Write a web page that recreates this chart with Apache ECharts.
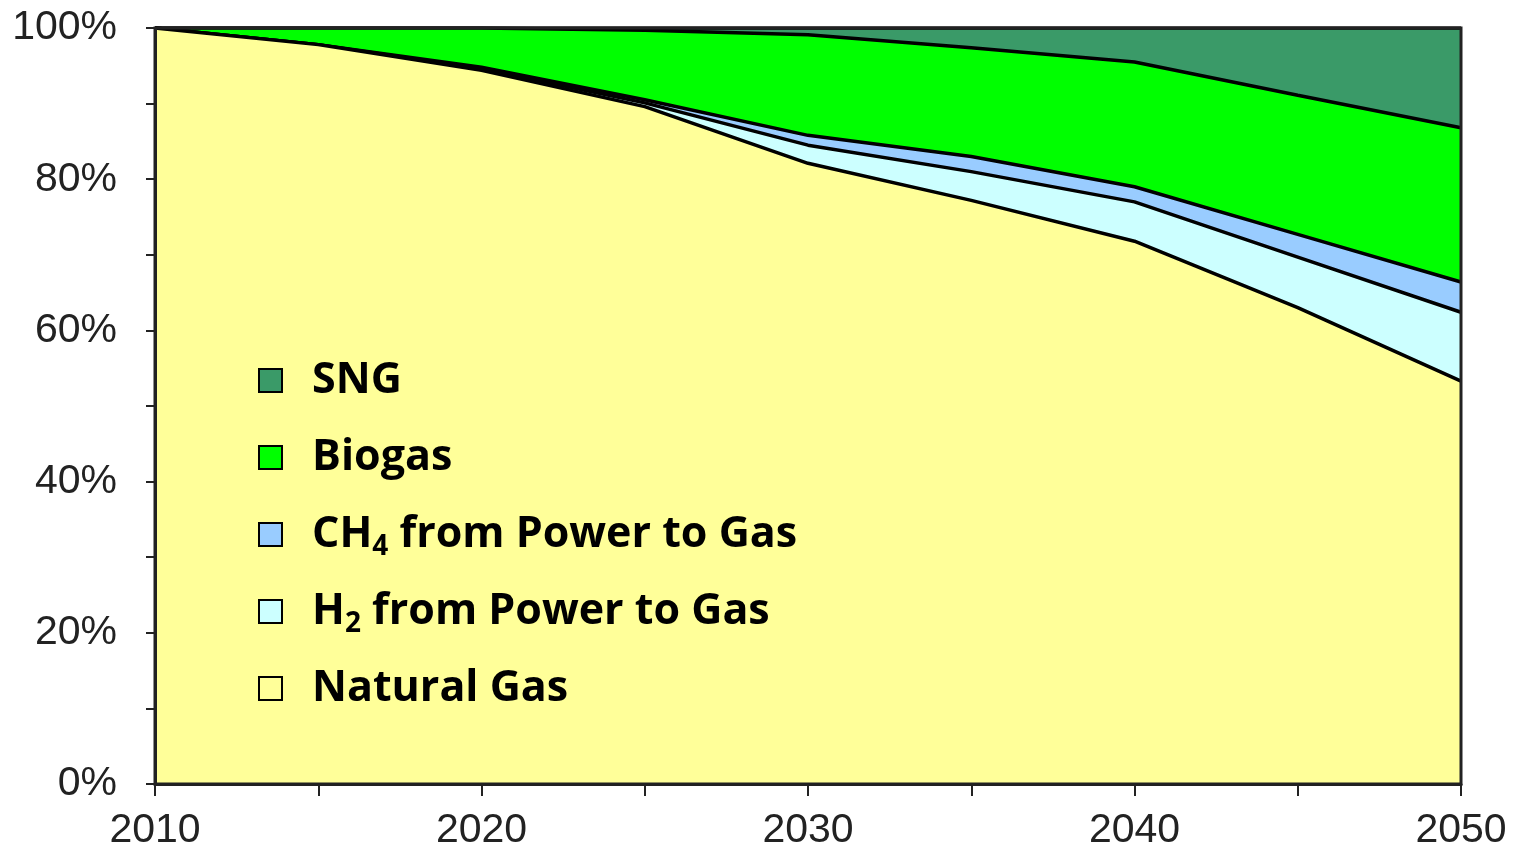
<!DOCTYPE html>
<html>
<head>
<meta charset="utf-8">
<script src="https://cdn.jsdelivr.net/npm/echarts@6/dist/echarts.min.js"></script>
<style>html,body{margin:0;padding:0;background:#fff}#c{width:1514px;height:853px}</style>
</head>
<body>
<div id="c"></div>
<script>
const years = ['2010', '2015', '2020', '2025', '2030', '2035', '2040', '2045', '2050'];
const naturalGas = [100, 97.8, 94.4, 89.6, 82.1, 77.2, 71.8, 63.0, 53.3];
const h2P2G = [0, 0, 0.2, 0.5, 2.4, 3.8, 5.2, 6.7, 9.1];
const ch4P2G = [0, 0, 0.2, 0.4, 1.3, 2.0, 2.0, 3.0, 4.0];
const biogas = [0, 2.2, 5.2, 9.2, 13.3, 14.4, 16.5, 18.4, 20.4];
const sng = [0, 0, 0, 0.3, 0.9, 2.6, 4.5, 8.9, 13.2];
const yTicks = [0, 20, 40, 60, 80, 100];
const xTicks = ['2010', '2020', '2030', '2040', '2050'];

const names = ['Natural Gas', 'H2 from Power to Gas', 'CH4 from Power to Gas', 'Biogas', 'SNG'];
const colors = ['#ffff99', '#ccffff', '#99ccff', '#00ff00', '#3a9a68'];
const values = [naturalGas, h2P2G, ch4P2G, biogas, sng];

const series = names.map((n, i) => ({
  name: n,
  type: 'line',
  stack: 'total',
  showSymbol: false,
  symbol: 'none',
  z: 8 - i,
  color: colors[i],
  itemStyle: { color: colors[i], borderColor: '#000', borderWidth: 2 },
  lineStyle: { color: '#000', width: 3.5 },
  areaStyle: { color: colors[i], opacity: 1 },
  data: values[i]
}));

const chart = echarts.init(document.getElementById('c'));
chart.setOption({
  animation: false,
  backgroundColor: '#fff',
  grid: { left: 155, right: 53, top: 28, bottom: 69, show: true, borderColor: '#222', borderWidth: 3, backgroundColor: 'transparent', z: 10 },
  legend: {
    show: true,
    z: 30,
    orient: 'vertical',
    left: 253,
    top: 349,
    itemGap: 24,
    itemWidth: 23,
    itemHeight: 23,
    icon: 'rect',
    data: ['SNG', 'Biogas', 'CH4 from Power to Gas', 'H2 from Power to Gas', 'Natural Gas'],
    itemStyle: { borderColor: '#000', borderWidth: 2 },
    textStyle: {
      fontFamily: 'Open Sans', fontWeight: 'bold', fontSize: 43, color: '#000', padding: [0,0,0,25], lineHeight: 53,
      rich: {
        b: { fontFamily: 'Open Sans', fontWeight: 'bold', fontSize: 43, color: '#000', lineHeight: 53 },
        s: { fontFamily: 'Open Sans', fontWeight: 'bold', fontSize: 28, color: '#000', lineHeight: 28, verticalAlign: 'bottom', padding: [25, 0, 0, 0] }
      }
    },
    formatter: function (n) {
      if (n === 'CH4 from Power to Gas') return '{b|CH}{s|4}{b| from Power to Gas}';
      if (n === 'H2 from Power to Gas') return '{b|H}{s|2}{b| from Power to Gas}';
      return '{b|' + n + '}';
    }
  },
  xAxis: {
    type: 'category', data: years, boundaryGap: false, z: 20,
    axisLine: { show: true, lineStyle: { color: '#222', width: 3 } },
    axisTick: { show: true, inside: false, interval: 0, length: 12, lineStyle: { color: '#222', width: 2 } },
    splitLine: { show: false },
    axisLabel: { interval: 0, fontFamily: 'Liberation Sans', fontSize: 41, color: '#222', margin: 26, formatter: v => xTicks.includes(v) ? v : '' }
  },
  yAxis: {
    type: 'value', min: 0, max: 100, interval: 20, z: 20,
    axisLine: { show: true, lineStyle: { color: '#222', width: 3 } },
    axisTick: { show: true, length: 9, lineStyle: { color: '#222', width: 2 } },
    minorTick: { show: true, splitNumber: 2, length: 9, lineStyle: { color: '#222', width: 2 } },
    splitLine: { show: false },
    axisLabel: { fontFamily: 'Liberation Sans', fontSize: 41, color: '#222', margin: 38, formatter: v => yTicks.includes(v) ? v + '%' : '' }
  },
  series: series
});
</script>
</body>
</html>
